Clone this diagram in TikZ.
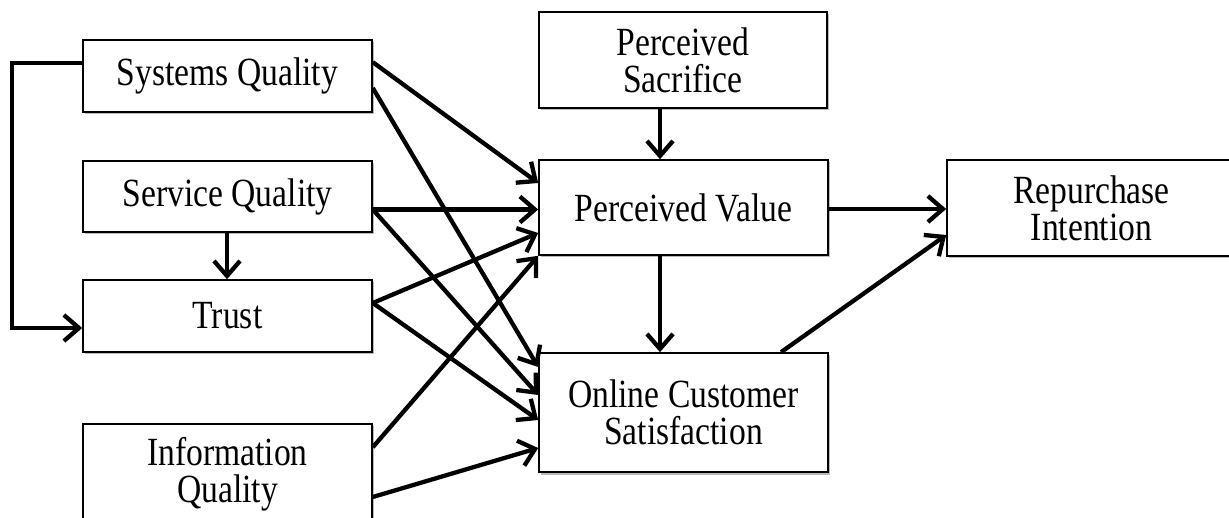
\documentclass[tikz,border=0pt]{standalone}
\usepackage{fontspec}
\setmainfont{Liberation Serif}[FakeStretch=0.84]
\usetikzlibrary{arrows.meta,shadows}
\tikzset{
  box/.style={draw=black, line width=1.6pt, fill=white, minimum width=289pt,
    align=center, inner sep=0pt, font=\fontsize{40}{37}\selectfont,
    drop shadow={shadow xshift=1.5pt, shadow yshift=-2.5pt, fill=black!45, opacity=0.6}},
  link/.style={line width=4.3pt, -{Straight Barb[length=15pt,width=26pt,line width=4.3pt]}}
}
\begin{document}
\begin{tikzpicture}[x=1pt,y=-1pt]
\useasboundingbox (0,0) rectangle (1229,518);
\node[box, minimum height=72pt] (sq) at (227.5,76) {Systems Quality};
\node[box, minimum height=71pt] (svq) at (227.5,196.5) {Service Quality};
\node[box, minimum height=72pt] (tr) at (227.5,316) {Trust};
\node[box, minimum height=100pt] (iq) at (227.5,474) {Information\\Quality};
\node[box, minimum width=288pt, minimum height=96pt] (ps) at (683,60) {Perceived\\Sacrifice};
\node[box, minimum height=95pt] (pv) at (683.5,207.5) {Perceived Value};
\node[box, minimum height=119pt] (ocs) at (683.5,412.5) {Online Customer\\Satisfaction};
\node[box, minimum height=96pt] (ri) at (1091.5,208) {Repurchase\\Intention};

% bracket from Systems Quality to Trust
\coordinate (c1) at (12,63);
\coordinate (c2) at (12,328);
\draw[link] ([yshift=13pt]sq.west) -- (c1) -- (c2) -- ([yshift=-12pt]tr.west);

\draw[link] ([yshift=-23pt]sq.north east) -- ([yshift=24.5pt]pv.west);
\draw[link] ([yshift=-12pt]sq.east) -- ([yshift=45.5pt]ocs.west);
\draw[link] ([yshift=-13pt]svq.east) -- ([yshift=-2pt]pv.west);
\draw[link] ([yshift=-13pt]svq.east) -- ([yshift=17.5pt]ocs.west);
\draw[link] ([xshift=-0.5pt]svq.south) -- ([xshift=-0.5pt]tr.north);
\draw[link] ([yshift=13pt]tr.east) -- ([yshift=-25.5pt]pv.west);
\draw[link] ([yshift=13pt]tr.east) -- ([yshift=-7.5pt]ocs.west);
\draw[link] ([yshift=-24pt]iq.north east) -- (pv.south west);
\draw[link] ([yshift=-23pt]iq.east) -- ([yshift=-35.5pt]ocs.west);
\draw[link] ([xshift=-23pt]ps.south) -- ([xshift=-23.5pt]pv.north);
\draw[link] ([xshift=-23.5pt]pv.south) -- ([xshift=-23.5pt]ocs.north);
\draw[link] ([yshift=-1.5pt]pv.east) -- ([yshift=-1pt]ri.west);
\draw[link] ([xshift=97.5pt]ocs.north) -- ([yshift=-27pt]ri.west);
\end{tikzpicture}
\end{document}
